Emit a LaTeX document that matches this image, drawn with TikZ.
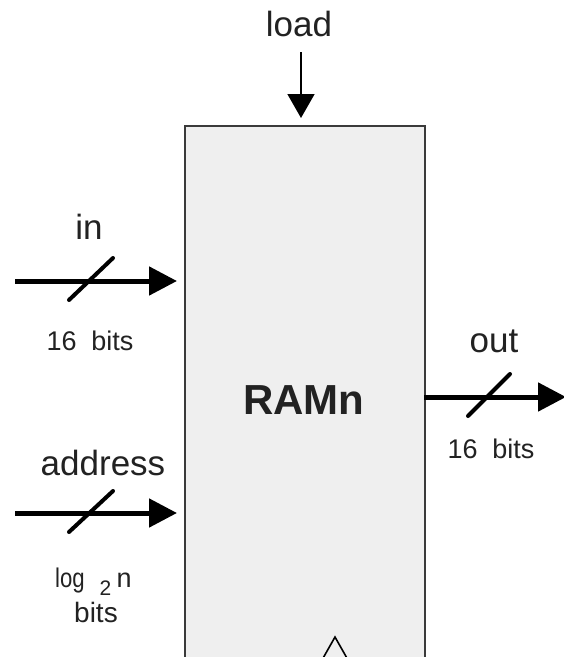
\documentclass[tikz,border=0pt]{standalone}
\usepackage{fontspec}
\setmainfont{Liberation Sans}
\usetikzlibrary{arrows.meta}
\definecolor{boxfill}{HTML}{EFEFEF}
\definecolor{boxline}{HTML}{3A3A3A}
\definecolor{txt}{HTML}{222222}
\begin{document}
\begin{tikzpicture}[x=1pt,y=-1pt,
  bus/.style={line width=5pt,-{Triangle[length=28pt,width=28pt]}},
  slash/.style={line width=4pt,line cap=round},
  ctl/.style={line width=1.5pt,-{Triangle[length=24pt,width=27pt]}},
  lbl/.style={text=txt,font=\fontsize{35}{38}\selectfont,anchor=base,inner sep=0pt},
  sml/.style={text=txt,font=\fontsize{27}{30}\selectfont,anchor=base,inner sep=0pt},
  chip/.style={draw=boxline,fill=boxfill,line width=2pt,inner sep=0pt}]
\clip (0,0) rectangle (564,657);
\fill[white] (0,0) rectangle (564,657);
% box
\node[chip,minimum width=240pt,minimum height=600pt,anchor=north west] (ram) at (184,125) {};
\node[text=txt,font=\bfseries\fontsize{42}{44}\selectfont,anchor=base,inner sep=0pt] (name) at (304,414) {RAMn};
% clock triangle
\coordinate (cl) at (322,660);
\coordinate (ca) at (335,637);
\coordinate (cr) at (348,660);
\draw[line width=1.6pt,black] (cl) -- (ca) -- (cr);
% load
\node[lbl] (load) at (299,36) {load};
\coordinate (ldS) at (301,52);
\coordinate (ldE) at (301,118);
\draw[ctl] (ldS) -- (ldE);
% in
\node[lbl] (in) at (89,239) {in};
\coordinate (inS) at (15,281);
\coordinate (inE) at (177,281);
\draw[bus] (inS) -- (inE);
\coordinate (inA) at (69,300);
\coordinate (inB) at (113,258);
\draw[slash] (inA) -- (inB);
\node[sml] (inbits) at (90,350) {16\hspace{0.55em}bits};
% address
\node[lbl] (addr) at (103,475) {address};
\coordinate (adS) at (15,513);
\coordinate (adE) at (177,513);
\draw[bus] (adS) -- (adE);
\coordinate (adA) at (69,532);
\coordinate (adB) at (113,491);
\draw[slash] (adA) -- (adB);
\node[sml,anchor=base west] (log) at (55,587) {\scalebox{0.82}[1]{log}\hspace{0.55em}\raisebox{-8pt}{\fontsize{21}{22}\selectfont 2}\hspace{0.2em}n};
\node[sml,font=\fontsize{28}{30}\selectfont] (adbits) at (96,622) {bits};
% out
\node[lbl] (out) at (494,352) {out};
\coordinate (otS) at (424,397);
\coordinate (otE) at (566,397);
\draw[bus] (otS) -- (otE);
\coordinate (otA) at (468,416);
\coordinate (otB) at (510,374);
\draw[slash] (otA) -- (otB);
\node[sml] (otbits) at (491,458) {16\hspace{0.55em}bits};
\end{tikzpicture}
\end{document}
